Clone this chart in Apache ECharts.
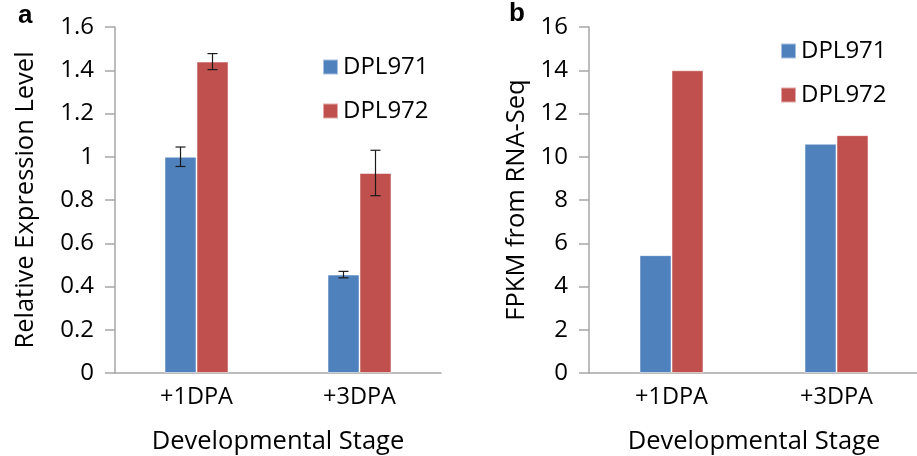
<!DOCTYPE html>
<html>
<head>
<meta charset="utf-8">
<script src="https://cdn.jsdelivr.net/npm/echarts@6/dist/echarts.min.js"></script>
<style>
  html, body { margin: 0; padding: 0; background: #fff; }
  #chart { width: 917px; height: 456px; }
</style>
</head>
<body>
<div id="chart"></div>
<script>
// data
var stages = ['+1DPA', '+3DPA'];
var seriesNames = ['DPL971', 'DPL972'];

// panel a: qRT-PCR relative expression, with error (+/-)
var relDPL971 = [1.0, 0.455];
var relDPL972 = [1.44, 0.925];
var errDPL971 = [0.045, 0.015];
var errDPL972 = [0.037, 0.105];

// panel b: FPKM from RNA-Seq
var fpkmDPL971 = [5.45, 10.6];
var fpkmDPL972 = [14.0, 11.0];

var relTicks = { min: 0, max: 1.6, interval: 0.2 };
var fpkmTicks = { min: 0, max: 16, interval: 2 };

var BLUE = '#4F81BD';
var RED = '#C0504D';
var FONT = 'Open Sans';
var BAR_W = 32;

var myChart = echarts.init(document.getElementById('chart'));

function xAxisFor(grid) {
    return {
        type: 'category',
        gridIndex: grid,
        data: stages,
        axisLine: { lineStyle: { color: '#a6a6a6', width: 1.5 } },
        axisTick: { show: false },
        axisLabel: { color: '#000', fontFamily: FONT, fontSize: 23.5, margin: 12 },
        name: 'Developmental Stage',
        nameLocation: 'middle',
        nameGap: 56,
        nameTextStyle: { color: '#000', fontFamily: FONT, fontSize: 25.5 }
    };
}

function yAxisFor(grid, ticks, title, gap) {
    return {
        type: 'value',
        gridIndex: grid,
        min: ticks.min,
        max: ticks.max,
        interval: ticks.interval,
        splitLine: { show: false },
        axisLine: { show: true, lineStyle: { color: '#a6a6a6', width: 1.5 } },
        axisTick: { show: true, length: 10, lineStyle: { color: '#a6a6a6', width: 1.5 } },
        axisLabel: { color: '#000', fontFamily: FONT, fontSize: 24, margin: 21 },
        name: title,
        nameLocation: 'middle',
        nameGap: gap,
        nameTextStyle: { color: '#000', fontFamily: FONT, fontSize: 25.5 }
    };
}

function barSeries(name, data, color, grid) {
    return {
        name: name,
        type: 'bar',
        xAxisIndex: grid,
        yAxisIndex: grid,
        data: data,
        barWidth: BAR_W,
        barGap: '0%',
        itemStyle: { color: color, borderColor: 'rgba(255,255,255,0.5)', borderWidth: 1 },
        emphasis: { disabled: true }
    };
}

// error bar rows: [category index, low, high, side (-1 left bar, 1 right bar)]
function errRows(vals, errs, side) {
    return vals.map(function (v, i) { return [i, v - errs[i], v + errs[i], side]; });
}

var errData = errRows(relDPL971, errDPL971, -1).concat(errRows(relDPL972, errDPL972, 1));

var legendText = { color: '#000', fontFamily: FONT, fontSize: 24 };

var option = {
    animation: false,
    backgroundColor: '#fff',
    graphic: [
        { type: 'text', left: 18, top: 3, style: { text: 'a', fontFamily: 'Arial', fontWeight: 'bold', fontSize: 26, fill: '#000' } },
        { type: 'text', left: 509, top: 1, style: { text: 'b', fontFamily: 'Arial', fontWeight: 'bold', fontSize: 26, fill: '#000' } }
    ],
    legend: [
        {
            orient: 'vertical', left: 317, top: 50,
            data: seriesNames, icon: 'rect', itemWidth: 15, itemHeight: 15, itemGap: 20,
            textStyle: legendText,
            selectedMode: false
        },
        {
            orient: 'vertical', left: 775, top: 34,
            data: seriesNames, icon: 'rect', itemWidth: 15, itemHeight: 15, itemGap: 20,
            textStyle: legendText,
            selectedMode: false
        }
    ],
    grid: [
        { left: 115, top: 27, width: 326, height: 346, outerBoundsMode: 'none' },
        { left: 589, top: 27, width: 330, height: 346, outerBoundsMode: 'none' }
    ],
    xAxis: [xAxisFor(0), xAxisFor(1)],
    yAxis: [
        yAxisFor(0, relTicks, 'Relative Expression Level', 76),
        yAxisFor(1, fpkmTicks, 'FPKM from RNA-Seq', 59)
    ],
    series: [
        barSeries(seriesNames[0], relDPL971, BLUE, 0),
        barSeries(seriesNames[1], relDPL972, RED, 0),
        barSeries(seriesNames[0], fpkmDPL971, BLUE, 1),
        barSeries(seriesNames[1], fpkmDPL972, RED, 1),
        {
            type: 'custom',
            xAxisIndex: 0,
            yAxisIndex: 0,
            data: errData,
            z: 10,
            renderItem: function (params, api) {
                var side = api.value(3);
                var lo = api.coord([api.value(0), api.value(1)]);
                var hi = api.coord([api.value(0), api.value(2)]);
                var x = lo[0] + side * BAR_W / 2;
                var cap = 5;
                var st = { stroke: '#1a1a1a', lineWidth: 1.2 };
                return {
                    type: 'group',
                    children: [
                        { type: 'line', shape: { x1: x, y1: lo[1], x2: x, y2: hi[1] }, style: st },
                        { type: 'line', shape: { x1: x - cap, y1: lo[1], x2: x + cap, y2: lo[1] }, style: st },
                        { type: 'line', shape: { x1: x - cap, y1: hi[1], x2: x + cap, y2: hi[1] }, style: st }
                    ]
                };
            }
        }
    ]
};

myChart.setOption(option);
</script>
</body>
</html>
